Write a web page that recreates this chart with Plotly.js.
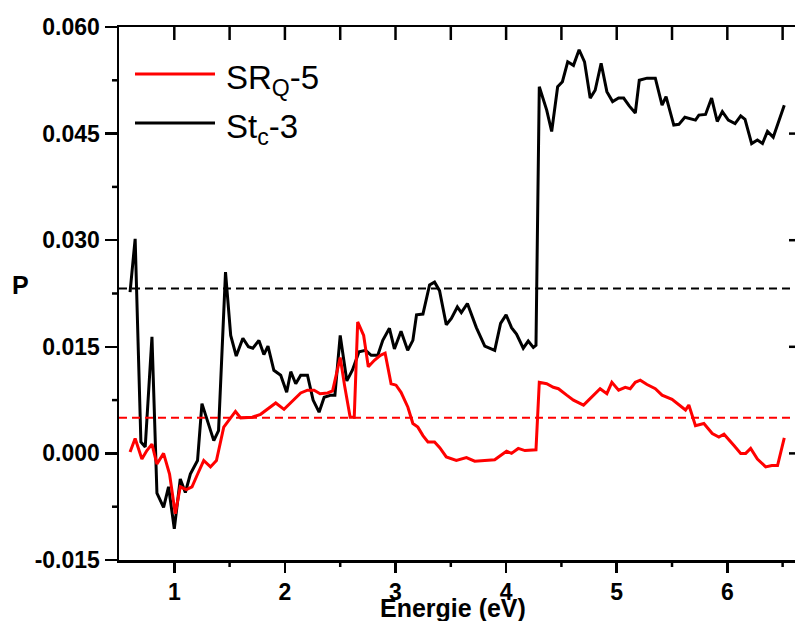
<!DOCTYPE html>
<html>
<head>
<meta charset="utf-8">
<script src="https://cdn.plot.ly/plotly-3.0.1.min.js"></script>
<style>
html, body { margin: 0; padding: 0; overflow: hidden; background: #fff; }
#chart { width: 800px; height: 621px; }
</style>
</head>
<body>
<div id="chart"></div>
<script>
// ---- data ----
const stcEnergy = [0.60,0.646,0.698,0.737,0.798,0.843,0.903,0.948,1.0,1.054,1.10,1.145,1.21,1.25,1.357,1.40,1.463,1.51,1.56,1.62,1.67,1.71,1.765,1.81,1.847,1.90,1.962,2.016,2.053,2.098,2.143,2.204,2.255,2.309,2.355,2.416,2.452,2.50,2.56,2.61,2.67,2.73,2.78,2.84,2.885,2.945,2.99,3.05,3.11,3.157,3.19,3.248,3.308,3.353,3.398,3.459,3.505,3.559,3.595,3.65,3.731,3.807,3.897,3.95,4.0,4.049,4.094,4.155,4.20,4.246,4.27,4.30,4.367,4.412,4.466,4.509,4.557,4.609,4.66,4.709,4.76,4.805,4.859,4.911,4.963,5.017,5.063,5.113,5.168,5.204,5.274,5.349,5.41,5.446,5.516,5.562,5.616,5.667,5.712,5.743,5.803,5.858,5.909,5.955,6.009,6.07,6.121,6.16,6.22,6.272,6.318,6.363,6.415,6.515];
const stcP = [0.0227,0.0302,0.0016,0.0009,0.0164,-0.0056,-0.0076,-0.0047,-0.0106,-0.0036,-0.0055,-0.0029,-0.0010,0.0070,0.0018,0.0032,0.0255,0.0166,0.0137,0.0162,0.0150,0.0148,0.0159,0.0139,0.0151,0.0117,0.0110,0.0086,0.0115,0.0098,0.0110,0.0110,0.0075,0.0058,0.0079,0.0082,0.0082,0.0166,0.0102,0.0117,0.0143,0.0145,0.0138,0.0138,0.0159,0.0176,0.0147,0.0172,0.0145,0.0159,0.0195,0.0196,0.0237,0.0241,0.0229,0.0181,0.0190,0.0206,0.0198,0.0211,0.0177,0.0151,0.0145,0.0183,0.0195,0.0177,0.0168,0.0148,0.0158,0.0149,0.0152,0.0516,0.0483,0.0453,0.0516,0.0523,0.0551,0.0546,0.0568,0.0551,0.0500,0.0511,0.0549,0.0509,0.0495,0.0500,0.0500,0.0489,0.0479,0.0525,0.0528,0.0528,0.0490,0.0502,0.0462,0.0463,0.0473,0.0471,0.0469,0.0476,0.0477,0.0500,0.0467,0.0481,0.0469,0.0464,0.0475,0.0470,0.0436,0.0441,0.0436,0.0453,0.0445,0.0490];

const srqEnergy = [0.60,0.646,0.707,0.752,0.798,0.843,0.903,0.957,1.009,1.054,1.109,1.16,1.211,1.266,1.327,1.381,1.447,1.493,1.553,1.60,1.65,1.705,1.78,1.841,1.917,1.992,2.068,2.143,2.204,2.264,2.318,2.386,2.431,2.50,2.54,2.59,2.627,2.658,2.712,2.754,2.809,2.863,2.906,2.96,3.005,3.05,3.112,3.157,3.202,3.248,3.293,3.353,3.40,3.459,3.55,3.641,3.716,3.807,3.897,3.95,4.004,4.049,4.11,4.17,4.246,4.27,4.30,4.367,4.427,4.473,4.548,4.609,4.70,4.775,4.85,4.911,4.956,5.017,5.077,5.122,5.168,5.213,5.274,5.349,5.41,5.50,5.561,5.622,5.652,5.712,5.788,5.864,5.924,5.97,6.06,6.121,6.166,6.211,6.272,6.347,6.402,6.454,6.515];
const srqP = [0.0002,0.0021,-0.0008,0.0004,0.0013,-0.0015,0.0000,-0.0029,-0.0085,-0.0047,-0.0051,-0.0047,-0.0029,-0.0010,-0.0019,-0.0010,0.0037,0.0047,0.0059,0.0050,0.0050,0.0051,0.0055,0.0062,0.0071,0.0062,0.0073,0.0085,0.0089,0.0089,0.0084,0.0085,0.0088,0.0135,0.0095,0.0051,0.0051,0.0185,0.0166,0.0122,0.0131,0.0138,0.0141,0.0098,0.0096,0.0086,0.0065,0.0042,0.0037,0.0025,0.0016,0.0016,0.0008,-0.0005,-0.0010,-0.0006,-0.0011,-0.0010,-0.0009,-0.0003,0.0003,0.0000,0.0007,0.0004,0.0005,0.0005,0.0100,0.0098,0.0093,0.0091,0.0082,0.0075,0.0068,0.0079,0.0091,0.0084,0.0100,0.0089,0.0093,0.0091,0.0100,0.0103,0.0097,0.0091,0.0082,0.0076,0.0069,0.0061,0.0068,0.0039,0.0042,0.0028,0.0023,0.0027,0.0011,0.0000,0.0000,0.0007,-0.0008,-0.0019,-0.0017,-0.0017,0.0022];

// horizontal reference (mean) levels
const stcMean = 0.0232;
const srqMean = 0.0050;

// axes
const xRange = [0.5, 6.63];
const yRange = [-0.015, 0.060];
const xTickVals = [1, 2, 3, 4, 5, 6];
const xTickText = ['1', '2', '3', '4', '5', '6'];
const xMinorVals = [1.5, 2.5, 3.5, 4.5, 5.5, 6.5];
const xTopVals = [1, 1.5, 2, 2.5, 3, 3.5, 4, 4.5, 5, 5.5, 6, 6.5];
const yTickVals = [-0.015, 0.000, 0.015, 0.030, 0.045, 0.060];
const yTickText = ['-0.015', '0.000', '0.015', '0.030', '0.045', '0.060'];
const yMinorVals = [-0.0075, 0.0075, 0.0225, 0.0375, 0.0525];
const yRightVals = [0.000, 0.015, 0.030, 0.045];

// legend labels
const seriesNames = ['SR<sub>Q</sub>-5', 'St<sub>c</sub>-3'];
const seriesColors = ['#ff0000', '#000000'];

const FONT = 'Liberation Sans, Arial, sans-serif';

const traces = [
  { x: stcEnergy, y: stcP, mode: 'lines', name: 'St_c-3',
    line: { color: seriesColors[1], width: 3 }, showlegend: false },
  { x: srqEnergy, y: srqP, mode: 'lines', name: 'SR_Q-5',
    line: { color: seriesColors[0], width: 3 }, showlegend: false },
  { x: xRange, y: [stcMean, stcMean], mode: 'lines',
    line: { color: '#000000', width: 2, dash: '8px,5px' }, showlegend: false, hoverinfo: 'skip' },
  { x: xRange, y: [srqMean, srqMean], mode: 'lines',
    line: { color: '#ff0000', width: 2, dash: '8px,5px' }, showlegend: false, hoverinfo: 'skip' }
];

// plot area pixel geometry
const L = 119, R = 797, T = 27, B = 560;
const W = R - L, H = B - T;
const px = v => (v - L) / W;
const py = v => 1 - (v - T) / H;

const tickLine = { color: '#000', width: 2.5 };
// axis tick decorations, built from the tick arrays
const topTicks = xTopVals.map(v => ({ type: 'line', layer: 'above', xref: 'x', yref: 'paper',
  ysizemode: 'pixel', yanchor: 1, x0: v, x1: v, y0: 0, y1: -13, line: tickLine }));
const bottomMinor = xMinorVals.map(v => ({ type: 'line', layer: 'above', xref: 'x', yref: 'paper',
  ysizemode: 'pixel', yanchor: 0, x0: v, x1: v, y0: -1, y1: -7, line: tickLine }));
const leftMinor = yMinorVals.map(v => ({ type: 'line', layer: 'above', xref: 'paper', yref: 'y',
  xsizemode: 'pixel', xanchor: 0, y0: v, y1: v, x0: -1, x1: -7, line: tickLine }));
const rightTicks = yRightVals.map(v => ({ type: 'line', layer: 'above', xref: 'paper', yref: 'y',
  xsizemode: 'pixel', xanchor: 1, y0: v, y1: v, x0: 0, x1: -8, line: tickLine }));

const legendLine = (yPix, color) => ({
  type: 'line', xref: 'paper', yref: 'paper', x0: px(135), x1: px(215), y0: py(yPix), y1: py(yPix),
  line: { color: color, width: 3 }
});

const layout = {
  width: 800, height: 621,
  margin: { l: L, r: 800 - R, t: T, b: 621 - B, pad: 0 },
  paper_bgcolor: '#ffffff', plot_bgcolor: '#ffffff',
  showlegend: false,
  font: { family: FONT, color: '#000' },
  xaxis: {
    range: xRange, showline: true, mirror: true, linewidth: 2.5, linecolor: '#000',
    showgrid: false, zeroline: false,
    tickmode: 'array', tickvals: xTickVals, ticktext: xTickText,
    ticks: 'outside', ticklen: 10, tickwidth: 2.5, tickcolor: '#000',
    tickfont: { family: FONT, size: 23, weight: 'bold', color: '#000' }
  },
  yaxis: {
    range: yRange, showline: true, mirror: true, linewidth: 2.5, linecolor: '#000',
    showgrid: false, zeroline: false,
    tickmode: 'array', tickvals: yTickVals, ticktext: yTickText,
    ticks: 'outside', ticklen: 12, tickwidth: 2.5, tickcolor: '#000',
    tickfont: { family: FONT, size: 23, weight: 'bold', color: '#000' }
  },
  shapes: [].concat(topTicks, bottomMinor, leftMinor, rightTicks,
    [legendLine(74, seriesColors[0]), legendLine(123, seriesColors[1])]),
  annotations: [
    { text: seriesNames[0], xref: 'paper', yref: 'paper', x: px(224), y: py(80), xanchor: 'left', yanchor: 'middle',
      showarrow: false, font: { family: FONT, size: 33, color: '#000' } },
    { text: seriesNames[1], xref: 'paper', yref: 'paper', x: px(224), y: py(129), xanchor: 'left', yanchor: 'middle',
      showarrow: false, font: { family: FONT, size: 33, color: '#000' } },
    { text: 'Energie (eV)', xref: 'paper', yref: 'paper', x: px(453), y: py(608), xanchor: 'center', yanchor: 'middle',
      showarrow: false, font: { family: FONT, size: 25, weight: 'bold', color: '#000' } },
    { text: 'P', xref: 'paper', yref: 'paper', x: px(21), y: py(285), xanchor: 'center', yanchor: 'middle',
      showarrow: false, font: { family: FONT, size: 25, weight: 'bold', color: '#000' } }
  ]
};

Plotly.newPlot('chart', traces, layout, { displayModeBar: false, staticPlot: true });
</script>
</body>
</html>
